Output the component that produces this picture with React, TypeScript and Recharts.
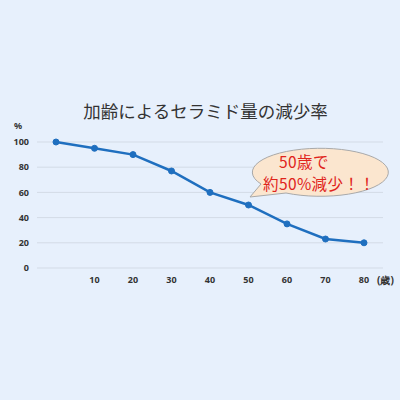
import { CartesianGrid, Customized, Line, LineChart, XAxis, YAxis } from "recharts";

const ages = [0, 10, 20, 30, 40, 50, 60, 70, 80];
const ceramide = [100, 95, 90, 77, 60, 50, 35, 23, 20];
const yTicks = [0, 20, 40, 60, 80, 100];

const data = ages.map((age, i) => ({ age, value: ceramide[i] }));

const tickStyle = {
  fill: "#333",
  fontSize: 9,
  fontWeight: 700,
  fontFamily: "'Noto Sans', sans-serif",
};

// speech bubble: ellipse with a tail pointing at the 50 point
function Extras() {
  return (
    <g>
      <text x={18} y={129} textAnchor="middle" {...tickStyle}>
        %
      </text>
      <text x={377} y={284} textAnchor="start" {...tickStyle} fontSize={10}>
        (歳)
      </text>
      <path
        d="M 286 193 L 250 197 L 261 184 A 68 24 0 1 1 286 193 Z"
        fill="#fbe6cf"
        stroke="#a9a9a9"
        strokeWidth={1}
      />
      <text
        fill="#e0241b"
        fontSize={15.5}
        letterSpacing={0.4}
        fontFamily="'Noto Sans CJK JP', sans-serif"
      >
        <tspan x={279} y={167.5}>
          50歳で
        </tspan>
        <tspan x={263} y={190}>
          約50%減少！！
        </tspan>
      </text>
    </g>
  );
}

export default function App() {
  return (
    <div
      style={{
        position: "absolute",
        top: 0,
        left: 0,
        width: 400,
        height: 400,
        background: "#e7f0fc",
      }}
    >
      <div
        style={{
          position: "absolute",
          top: 98,
          left: 0,
          width: 411,
          textAlign: "center",
          fontFamily: "'Noto Sans CJK JP', sans-serif",
          fontSize: 17.5,
          color: "#333",
        }}
      >
        加齢によるセラミド量の減少率
      </div>
      <LineChart
        width={400}
        height={400}
        data={data}
        margin={{ top: 142, right: 17, bottom: 0, left: 0 }}
        style={{ position: "absolute", top: 0, left: 0 }}
      >
        <CartesianGrid vertical={false} stroke="#d3dbe6" strokeWidth={1} />
        <XAxis
          dataKey="age"
          height={132}
          padding={{ left: 19, right: 19 }}
          axisLine={false}
          tickLine={false}
          tickSize={0}
          tickMargin={9}
          interval={0}
          tick={tickStyle}
          tickFormatter={(v) => (v === 0 ? "" : String(v))}
        />
        <YAxis
          width={37}
          domain={[0, 100]}
          ticks={yTicks}
          axisLine={false}
          tickLine={false}
          tickSize={0}
          tickMargin={8}
          interval={0}
          tick={tickStyle}
        />
        <Line
          dataKey="value"
          stroke="#1f6fbf"
          strokeWidth={2.5}
          dot={{ r: 3, fill: "#1f6fbf", stroke: "#1f6fbf", strokeWidth: 1 }}
          isAnimationActive={false}
        />
        <Customized component={<Extras />} />
      </LineChart>
    </div>
  );
}
